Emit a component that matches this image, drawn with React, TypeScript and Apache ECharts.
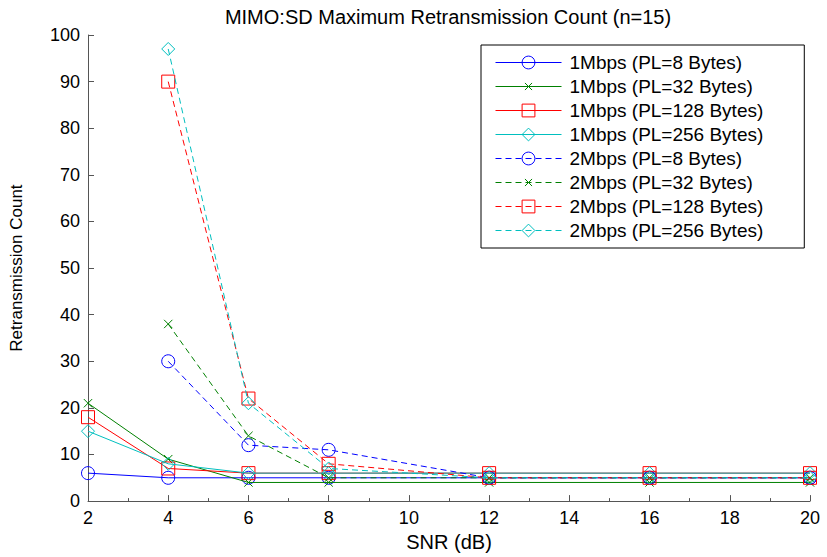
import React, { useEffect, useRef } from "react";
import * as echarts from "echarts";

const snr = [2, 4, 6, 8, 12, 16, 20];
const xTicks = [2, 4, 6, 8, 10, 12, 14, 16, 18, 20];

const seriesNames = [
  "1Mbps (PL=8 Bytes)",
  "1Mbps (PL=32 Bytes)",
  "1Mbps (PL=128 Bytes)",
  "1Mbps (PL=256 Bytes)",
  "2Mbps (PL=8 Bytes)",
  "2Mbps (PL=32 Bytes)",
  "2Mbps (PL=128 Bytes)",
  "2Mbps (PL=256 Bytes)",
];

const m1_pl8 = [6, 5, 5, 5, 5, 5, 5];
const m1_pl32 = [21, 9, 4, 4, 4, 4, 4];
const m1_pl128 = [18, 7, 6, 6, 6, 6, 6];
const m1_pl256 = [15, 8, 6, 6, 6, 6, 6];
const m2_pl8 = [null, 30, 12, 11, 5, 5, 5];
const m2_pl32 = [null, 38, 14, 5, 5, 5, 5];
const m2_pl128 = [null, 90, 22, 8, 5, 5, 5];
const m2_pl256 = [null, 97, 21, 7, 5, 5, 5];

const seriesValues = [m1_pl8, m1_pl32, m1_pl128, m1_pl256, m2_pl8, m2_pl32, m2_pl128, m2_pl256];

const BLUE = "#0000FF";
const GREEN = "#008000";
const RED = "#FF0000";
const CYAN = "#00BFBF";
const colors = [BLUE, GREEN, RED, CYAN, BLUE, GREEN, RED, CYAN];
const XSYM = "path://M-4,-4M14,14M0,0L10,10M10,0L0,10";
const symbols = ["circle", XSYM, "rect", "diamond", "circle", XSYM, "rect", "diamond"];
const FONT = "Liberation Sans";

export default function App() {
  const ref = useRef<HTMLDivElement>(null);
  useEffect(() => {
    if (!ref.current) return;
    const chart = echarts.init(ref.current, undefined, { renderer: "svg" });
    const series = seriesNames.map((name, si) => ({
      name,
      type: "line",
      data: snr
        .map((x, i) => [x, seriesValues[si][i]])
        .filter((p) => p[1] !== null && p[1] !== undefined),
      symbol: symbols[si],
      symbolSize: symbols[si] === XSYM ? 15 : 13,
      showSymbol: true,
      lineStyle: {
        color: colors[si],
        width: 1,
        type: si >= 4 ? [6, 4] : "solid",
      },
      itemStyle: {
        color: "transparent",
        borderColor: colors[si],
        borderWidth: 1,
      },
      emphasis: { disabled: true },
      z: 2 + si,
    }));
    chart.setOption({
      animation: false,
      backgroundColor: "#fff",
      title: {
        text: "MIMO:SD Maximum Retransmission Count (n=15)",
        left: 443,
        top: 2,
        textAlign: "center",
        textStyle: { fontFamily: FONT, fontSize: 20, fontWeight: "normal", color: "#000" },
      },
      legend: {
        orient: "vertical",
        left: 481,
        top: 45,
        padding: [8, 41, 8, 14],
        itemWidth: 66,
        itemHeight: 16,
        itemGap: 5,
        borderColor: "#000",
        borderWidth: 1,
        backgroundColor: "#fff",
        lineStyle: { width: 1 },
        itemStyle: { borderWidth: 1 },
        textStyle: { fontFamily: FONT, fontSize: 19, color: "#000", padding: [0, 0, 0, 3] },
        data: seriesNames,
      },
      grid: { left: 88, right: 17, top: 35, bottom: 52, containLabel: false },
      xAxis: {
        type: "value",
        min: 2,
        max: 20,
        interval: 2,
        name: "SNR (dB)",
        nameLocation: "middle",
        nameGap: 29,
        nameTextStyle: { fontFamily: FONT, fontSize: 20, color: "#000" },
        axisLine: { show: true, onZero: false, lineStyle: { color: "#555", width: 1 } },
        axisTick: { show: true, inside: true, length: 6, lineStyle: { color: "#555" } },
        minorTick: { show: true, splitNumber: 2, length: 3, lineStyle: { color: "#555" } },
        axisLabel: {
          fontFamily: FONT,
          fontSize: 18,
          color: "#000",
          margin: 8,
          formatter: (v: number) => (xTicks.includes(v) ? String(v) : ""),
        },
        splitLine: { show: false },
      },
      yAxis: {
        type: "value",
        min: 0,
        max: 100,
        interval: 10,
        name: "Retransmission Count",
        nameLocation: "middle",
        nameGap: 63,
        nameTextStyle: { fontFamily: FONT, fontSize: 17, color: "#000" },
        axisLine: { show: true, lineStyle: { color: "#555", width: 1 } },
        axisTick: { show: true, inside: true, length: 6, lineStyle: { color: "#555" } },
        axisLabel: { fontFamily: FONT, fontSize: 18, color: "#000", margin: 8 },
        splitLine: { show: false },
      },
      series,
    });
    return () => chart.dispose();
  }, []);
  return (
    <div
      ref={ref}
      style={{ position: "fixed", left: 0, top: 0, width: 827, height: 557, background: "#fff" }}
    />
  );
}
